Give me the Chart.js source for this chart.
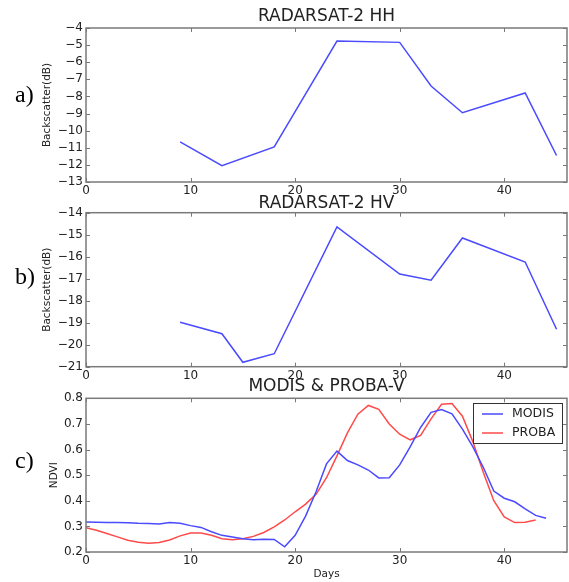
<!DOCTYPE html>
<html><head><meta charset="utf-8">
<script src="https://cdn.jsdelivr.net/npm/chart.js@4/dist/chart.umd.min.js"></script>
<style>
html,body{margin:0;padding:0;background:#fff;}
#wrap{position:relative;width:569px;height:582px;overflow:hidden;background:#fff;}
canvas{position:absolute;left:0;}
</style></head><body>
<div id="wrap">
<canvas id="ca" width="569" height="200" style="top:0px"></canvas>
<canvas id="cb" width="569" height="200" style="top:190px"></canvas>
<canvas id="cc" width="569" height="207" style="top:375px"></canvas>
</div>
<script>
// ---- data ----
const hhDays = [9, 13, 18, 24, 30, 33, 36, 42, 45];
const hhValues = [-10.65, -12.05, -10.95, -4.76, -4.84, -7.39, -8.95, -7.8, -11.45];
const hvDays = [9, 13, 15, 18, 24, 30, 33, 36, 42, 45];
const hvValues = [-18.98, -19.5, -20.8, -20.41, -14.65, -16.79, -17.07, -15.15, -16.24, -19.3];
const modisDays = [0,1,2,3,4,5,6,7,8,9,10,11,12,13,14,15,16,17,18,19,20,21,22,23,24,25,26,27,28,29,30,31,32,33,34,35,36,37,38,39,40,41,42,43,44];
const modisValues = [0.317,0.316,0.315,0.315,0.314,0.312,0.311,0.309,0.315,0.312,0.303,0.296,0.279,0.265,0.259,0.252,0.248,0.250,0.249,0.220,0.265,0.340,0.435,0.544,0.594,0.557,0.540,0.520,0.489,0.490,0.540,0.610,0.686,0.745,0.756,0.739,0.680,0.610,0.530,0.438,0.410,0.396,0.368,0.343,0.332];
const probaDays = [0,1,2,3,4,5,6,7,8,9,10,11,12,13,14,15,16,17,18,19,20,21,22,23,24,25,26,27,28,29,30,31,32,33,34,35,36,37,38,39,40,41,42,43];
const probaValues = [0.295,0.285,0.272,0.259,0.246,0.238,0.234,0.237,0.247,0.263,0.274,0.274,0.265,0.252,0.248,0.252,0.261,0.276,0.298,0.325,0.357,0.387,0.425,0.490,0.575,0.665,0.738,0.772,0.757,0.700,0.660,0.638,0.655,0.720,0.777,0.780,0.730,0.630,0.510,0.400,0.337,0.315,0.316,0.325];
const xTicks = [0, 10, 20, 30, 40];
const hhTicks = [-13, -12, -11, -10, -9, -8, -7, -6, -5, -4];
const hvTicks = [-21, -20, -19, -18, -17, -16, -15, -14];
const ndviTicks = [0.2, 0.3, 0.4, 0.5, 0.6, 0.7, 0.8];

const BLUE = '#4a4aff';
const RED = '#ff4a4a';
const FONT = '"DejaVu Sans", sans-serif';

function pts(xs, ys) { return xs.map((x, i) => ({x: x, y: ys[i]})); }

const panelDecor = {
  id: 'panelDecor',
  afterDraw(chart, args, o) {
    const ctx = chart.ctx, a = chart.chartArea;
    const xs = chart.scales.x, ys = chart.scales.y;
    ctx.save();
    // inward tick marks on all sides
    ctx.strokeStyle = '#777'; ctx.lineWidth = 1;
    const L = 4;
    ctx.beginPath();
    xs.ticks.forEach(t => {
      const p = Math.round(xs.getPixelForValue(t.value)) + 0.5;
      ctx.moveTo(p, a.bottom); ctx.lineTo(p, a.bottom - L);
      ctx.moveTo(p, a.top); ctx.lineTo(p, a.top + L);
    });
    ys.ticks.forEach(t => {
      const p = Math.round(ys.getPixelForValue(t.value)) + 0.5;
      ctx.moveTo(a.left, p); ctx.lineTo(a.left + L, p);
      ctx.moveTo(a.right, p); ctx.lineTo(a.right - L, p);
    });
    ctx.stroke();
    ctx.lineWidth = 1.5; ctx.strokeStyle = '#7a7a7a';
    ctx.strokeRect(a.left, a.top, a.right - a.left, a.bottom - a.top);
    // title
    ctx.fillStyle = '#222';
    ctx.font = '17px ' + FONT; ctx.textAlign = 'center'; ctx.textBaseline = 'middle';
    ctx.fillText(o.title, (a.left + a.right) / 2, o.titleY);
    // panel label
    ctx.fillStyle = '#000';
    ctx.font = '24px "Liberation Serif", serif'; ctx.textAlign = 'left';
    ctx.fillText(o.label, 15, o.labelY);
    // y label
    ctx.save();
    ctx.fillStyle = '#222';
    ctx.translate(o.ylabelX, (a.top + a.bottom) / 2);
    ctx.rotate(-Math.PI / 2);
    ctx.font = '10.5px ' + FONT; ctx.textAlign = 'center'; ctx.textBaseline = 'middle';
    ctx.fillText(o.ylabel, 0, 0);
    ctx.restore();
    if (o.xlabel) {
      ctx.fillStyle = '#222';
      ctx.font = '10.5px ' + FONT; ctx.textAlign = 'center'; ctx.textBaseline = 'middle';
      ctx.fillText(o.xlabel, (a.left + a.right) / 2, o.xlabelY);
    }
    if (o.legend) {
      const bx = 473, by = 28, bw = 89, bh = 40;
      ctx.fillStyle = '#fff';
      ctx.fillRect(bx, by, bw, bh);
      ctx.strokeStyle = '#333'; ctx.lineWidth = 1;
      ctx.strokeRect(bx + 0.5, by + 0.5, bw, bh);
      chart.data.datasets.forEach((d, i) => {
        const yy = by + 11 + i * 19;
        ctx.strokeStyle = d.borderColor; ctx.lineWidth = 1.5;
        ctx.beginPath(); ctx.moveTo(bx + 9, yy); ctx.lineTo(bx + 30, yy); ctx.stroke();
        ctx.fillStyle = '#222';
        ctx.font = '12.5px ' + FONT; ctx.textAlign = 'left'; ctx.textBaseline = 'middle';
        ctx.fillText(d.label, bx + 39, yy);
      });
    }
    ctx.restore();
  }
};

function fmt(v, dec) {
  const s = dec ? Math.abs(v).toFixed(dec) : String(Math.abs(v));
  return (v < 0 ? '\u2212' : '') + s;
}

function makePanel(id, datasets, yMin, yMax, yTicks, dec, padTop, xHeight, deco) {
  return new Chart(document.getElementById(id), {
    type: 'line',
    data: {datasets: datasets},
    options: {
      responsive: false,
      animation: false,
      devicePixelRatio: 1,
      layout: {padding: {top: padTop, right: 2, left: 0, bottom: 0}},
      elements: {point: {radius: 0}, line: {tension: 0, borderWidth: 1.5}},
      plugins: {legend: {display: false}, tooltip: {enabled: false}, panelDecor: deco},
      scales: {
        x: {
          type: 'linear', min: 0, max: 46,
          grid: {display: false, drawTicks: false},
          border: {display: false},
          afterBuildTicks: s => { s.ticks = xTicks.map(v => ({value: v})); },
          afterFit: s => { s.height = xHeight; },
          ticks: {color: '#222', font: {family: FONT, size: 12}, padding: 2, maxRotation: 0,
                  autoSkip: false, callback: v => fmt(v, 0)}
        },
        y: {
          type: 'linear', min: yMin, max: yMax,
          grid: {display: false, drawTicks: false},
          border: {display: false},
          afterBuildTicks: s => { s.ticks = yTicks.map(v => ({value: v})); },
          afterFit: s => { s.width = 86; },
          ticks: {color: '#222', font: {family: FONT, size: 12}, padding: 3,
                  autoSkip: false, callback: v => fmt(v, dec)}
        }
      }
    },
    plugins: [panelDecor]
  });
}

makePanel('ca', [{label: 'HH', data: pts(hhDays, hhValues), borderColor: BLUE}],
  -13, -4, hhTicks, 0, 28, 18,
  {title: 'RADARSAT-2 HH', titleY: 17, label: 'a)', labelY: 96, ylabel: 'Backscatter(dB)', ylabelX: 47});

makePanel('cb', [{label: 'HV', data: pts(hvDays, hvValues), borderColor: BLUE}],
  -21, -14, hvTicks, 0, 22.7, 23.3,
  {title: 'RADARSAT-2 HV', titleY: 13.5, label: 'b)', labelY: 88, ylabel: 'Backscatter(dB)', ylabelX: 47});

makePanel('cc', [
    {label: 'MODIS', data: pts(modisDays, modisValues), borderColor: BLUE},
    {label: 'PROBA', data: pts(probaDays, probaValues), borderColor: RED}
  ],
  0.2, 0.8, ndviTicks, 1, 23.3, 30,
  {title: 'MODIS & PROBA-V', titleY: 12, label: 'c)', labelY: 87, ylabel: 'NDVI', ylabelX: 54,
   xlabel: 'Days', xlabelY: 199, legend: true});
</script>
</body></html>
